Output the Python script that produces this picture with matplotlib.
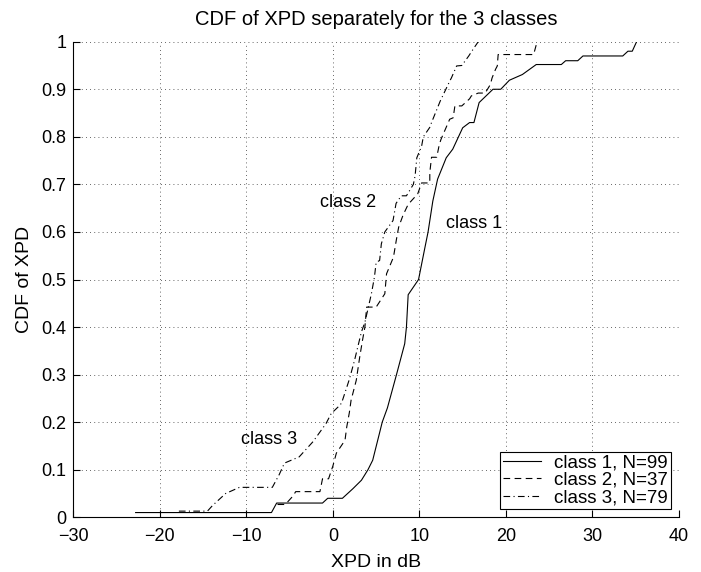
import matplotlib
matplotlib.use("Agg")
import matplotlib.pyplot as plt

# CDF curves (XPD in dB, cumulative fraction)
class1_xpd = [-22.8, -7.1, -6.5, -1.2, -0.6, 1.1, 2.3, 3.3, 4.05, 4.6, 5.4, 5.7, 6.3,
              7.35, 8.3, 8.5, 8.7, 9.9, 10.6, 11.0, 11.55, 12.1, 13.1, 13.85, 15.0,
              15.8, 16.3, 16.9, 18.5, 19.4, 20.4, 21.9, 23.5, 26.4, 26.9, 28.3, 28.9,
              33.5, 34.1, 34.6, 35.1]
class1_cdf = [0.010, 0.010, 0.030, 0.030, 0.040, 0.040, 0.060, 0.078, 0.100, 0.120, 0.178,
              0.200, 0.230, 0.300, 0.365, 0.400, 0.468, 0.500, 0.564, 0.600, 0.665, 0.711,
              0.756, 0.774, 0.819, 0.830, 0.830, 0.872, 0.900, 0.900, 0.919, 0.931, 0.952,
              0.952, 0.960, 0.960, 0.970, 0.970, 0.980, 0.980, 1.0]

class2_xpd = [-6.4, -5.5, -4.6, -4.3, -1.5, -1.2, -0.5, 0.0, 0.4, 1.4, 1.6, 1.9, 2.1,
              2.7, 3.1, 3.4, 3.7, 3.9, 5.0, 6.0, 6.2, 7.0, 7.35, 7.6, 8.1, 8.7, 9.8,
              10.0, 10.25, 11.2, 11.2, 11.4, 12.0, 12.3, 12.5, 13.5, 13.9, 14.1, 14.9,
              15.8, 16.0, 16.8, 17.6, 18.2, 18.4, 18.8, 19.0, 19.1, 23.2, 23.6]
class2_cdf = [0.027, 0.027, 0.045, 0.054, 0.054, 0.081, 0.081, 0.108, 0.135, 0.162, 0.190,
              0.220, 0.246, 0.288, 0.337, 0.370, 0.400, 0.442, 0.442, 0.470, 0.512, 0.547,
              0.585, 0.610, 0.635, 0.658, 0.680, 0.690, 0.703, 0.703, 0.725, 0.757, 0.757,
              0.784, 0.795, 0.837, 0.840, 0.865, 0.865, 0.880, 0.886, 0.892, 0.892, 0.910,
              0.924, 0.942, 0.949, 0.973, 0.973, 1.0]

class3_xpd = [-17.8, -14.5, -13.9, -12.4, -10.8, -7.0, -6.2, -5.6, -3.9, -2.3, -0.8, -0.2,
              0.6, 1.0, 1.9, 2.5, 3.3, 3.7, 4.45, 4.8, 5.0, 5.4, 5.6, 6.0, 6.95, 7.3, 7.9,
              8.5, 9.3, 9.5, 9.7, 10.25, 10.45, 11.2, 11.4, 12.4, 13.5, 13.7, 14.3, 14.9,
              15.7, 16.2, 16.8]
class3_cdf = [0.013, 0.013, 0.025, 0.050, 0.063, 0.063, 0.090, 0.114, 0.127, 0.159, 0.197,
              0.218, 0.232, 0.240, 0.290, 0.330, 0.390, 0.410, 0.470, 0.505, 0.536, 0.540,
              0.575, 0.600, 0.624, 0.660, 0.676, 0.676, 0.700, 0.718, 0.756, 0.780, 0.800,
              0.820, 0.830, 0.875, 0.917, 0.924, 0.949, 0.950, 0.970, 0.984, 1.0]

legend_labels = ["class 1, N=99", "class 2, N=37", "class 3, N=79"]
x_ticks = [-30, -20, -10, 0, 10, 20, 30, 40]
y_ticks = [0, 0.1, 0.2, 0.3, 0.4, 0.5, 0.6, 0.7, 0.8, 0.9, 1]
y_tick_labels = ["0", "0.1", "0.2", "0.3", "0.4", "0.5", "0.6", "0.7", "0.8", "0.9", "1"]

plt.rcParams["font.family"] = ["Liberation Sans", "DejaVu Sans"]
plt.rcParams["font.size"] = 13

fig = plt.figure(figsize=(7.01, 5.72), dpi=100)
ax = fig.add_axes([0.1046, 0.0956, 0.8640, 0.8315])

ax.plot(class1_xpd, class1_cdf, color="black", linewidth=0.8, linestyle="-", label=legend_labels[0])
ax.plot(class2_xpd, class2_cdf, color="black", linewidth=0.8, linestyle=(0, (6, 4)), label=legend_labels[1])
ax.plot(class3_xpd, class3_cdf, color="black", linewidth=0.8, linestyle=(0, (6, 3, 1, 3)), label=legend_labels[2])

# curve annotations
ax.text(13.1, 0.618, "class 1", ha="left", va="center", fontsize=13)
ax.text(-1.5, 0.662, "class 2", ha="left", va="center", fontsize=13)
ax.text(-10.6, 0.164, "class 3", ha="left", va="center", fontsize=13)

ax.set_xlim(-30, 40)
ax.set_ylim(0, 1)
ax.set_xticks(x_ticks)
ax.set_yticks(y_ticks)
ax.set_yticklabels(y_tick_labels)
ax.tick_params(direction="in", length=5, width=0.8, labelsize=13)
ax.tick_params(axis="x", pad=8)
ax.tick_params(axis="y", pad=5)

ax.grid(True, color="black", linestyle=(0, (1, 4)), linewidth=0.6, alpha=0.8)
ax.spines["top"].set_visible(False)
ax.spines["right"].set_visible(False)
ax.spines["left"].set_linewidth(0.8)
ax.spines["bottom"].set_linewidth(0.8)

ax.set_title("CDF of XPD separately for the 3 classes", fontsize=14.5, pad=12)
ax.set_xlabel("XPD in dB", fontsize=14, labelpad=6)
ax.set_ylabel("CDF of XPD", fontsize=14, labelpad=6)

leg = ax.legend(loc="lower right", fontsize=13.5, frameon=True, fancybox=False,
                edgecolor="black", framealpha=1, borderpad=0.15, labelspacing=0.0,
                handlelength=2.0, handletextpad=0.7, borderaxespad=0.45)
leg.get_frame().set_linewidth(0.8)

fig.savefig("out.png", dpi=100)
